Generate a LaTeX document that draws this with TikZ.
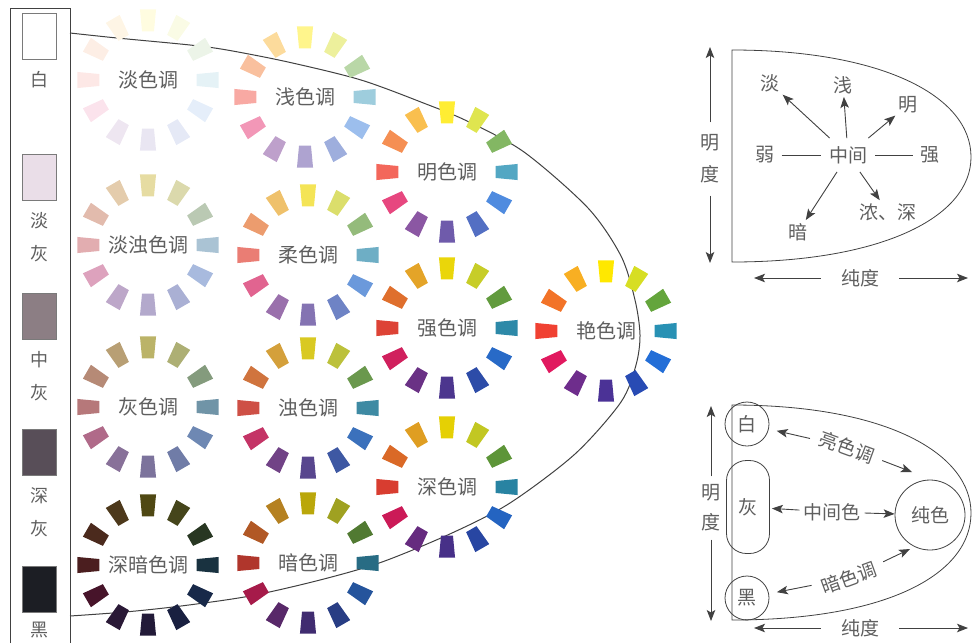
\documentclass[tikz,border=0pt]{standalone}
\usepackage{fontspec}
\setmainfont{Noto Sans CJK SC}
\usetikzlibrary{positioning,arrows.meta}

% twelve vivid hues, clockwise from the top
\definecolor{hue1}{RGB}{255,232,0}
\definecolor{hue2}{RGB}{215,222,35}
\definecolor{hue3}{RGB}{100,165,60}
\definecolor{hue4}{RGB}{40,145,180}
\definecolor{hue5}{RGB}{35,110,215}
\definecolor{hue6}{RGB}{40,75,180}
\definecolor{hue7}{RGB}{75,50,150}
\definecolor{hue8}{RGB}{110,45,140}
\definecolor{hue9}{RGB}{225,25,95}
\definecolor{hue10}{RGB}{240,65,50}
\definecolor{hue11}{RGB}{242,115,40}
\definecolor{hue12}{RGB}{248,175,35}
\definecolor{txt}{RGB}{95,95,95}
\definecolor{rim}{RGB}{65,65,65}
\definecolor{mixpd}{RGB}{220,215,225}
\definecolor{mixsoft}{RGB}{225,222,225}
\definecolor{mixstrong}{RGB}{80,80,80}
\definecolor{mixgray}{RGB}{150,150,160}
\definecolor{mixdull}{RGB}{120,120,120}
\definecolor{mixdark}{RGB}{20,18,25}
\definecolor{mixdeep}{RGB}{40,30,30}
\definecolor{gLight}{RGB}{234,222,232}
\definecolor{gMid}{RGB}{140,126,132}
\definecolor{gDark}{RGB}{88,78,88}
\definecolor{gBlack}{RGB}{28,30,36}

% one ring of twelve chips: name, centre, label, percent, mix colour
\newcommand{\tonewheel}[5]{%
  \foreach \k in {1,...,12}{%
    \pgfmathsetmacro{\ang}{30*\k-120}
    \fill[fill=hue\k!#4!#5, shift={#2}]
      (\ang-7:49) -- (\ang+7:49) -- (\ang+6.5:71) -- (\ang-6.5:71) -- cycle;
  }
  \node[tone] (#1) at #2 {#3};
}

\begin{document}
\begin{tikzpicture}[x=1pt,y=-1pt,
    tone/.style={font=\fontsize{20}{20}\selectfont,text=txt,inner sep=0pt},
    lab/.style={font=\fontsize{19}{19}\selectfont,text=txt,inner sep=3pt},
    chip/.style={draw=rim!70,line width=0.5pt,minimum width=34pt,minimum height=46pt,inner sep=0pt},
    chip text/.style={font=\fontsize{18}{33}\selectfont,text=txt,align=center,inner sep=0pt},
    rim line/.style={draw=rim,line width=1pt},
    arr/.style={draw=rim,line width=0.9pt,-{Stealth[length=11pt,width=8.5pt,inset=2.5pt]}},
    ring/.style={circle,draw=rim,line width=0.8pt,font=\fontsize{19}{19}\selectfont,text=txt,inner sep=0pt}]
  \useasboundingbox (0,0) rectangle (973,643);

  % grey scale column
  \draw[rim line,line width=0.8pt] (10,643) -- (10,8) -- (70,8) -- (70,643);
  \node[chip,fill=white]  (c white) at (39,36) {};
  \node[chip,fill=gLight] (c light) at (39,177) {};
  \node[chip,fill=gMid]   (c mid)   at (39,316) {};
  \node[chip,fill=gDark]  (c dark)  at (39,452) {};
  \node[chip,fill=gBlack] (c black) at (39,589) {};
  \node[chip text,below=12pt of c white] (t white) {白};
  \node[chip text,below=12pt of c light] (t light) {淡\\灰};
  \node[chip text,below=12pt of c mid]   (t mid)   {中\\灰};
  \node[chip text,below=12pt of c dark]  (t dark)  {深\\灰};
  \node[chip text,below=10pt of c black] (t black) {黑};

  % outline of the tone area
  \draw[rim line] plot[smooth] coordinates {(70,33) (117,38) (190,45) (227,50) (288,62)
    (361,80) (426,104) (467,121) (524,152) (588,208) (621,256) (635,300) (640,335)
    (636,365) (621,402) (575,454) (510,503) (452,533) (382,562) (320,580) (250,596)
    (181,606) (125,612) (70,616)};

  % tone rings
  \tonewheel{w pale}{(148,80)}{淡色调}{12}{white}
  \tonewheel{w light}{(305,97)}{浅色调}{45}{white}
  \tonewheel{w bright}{(447,172)}{明色调}{80}{white}
  \tonewheel{w pale dull}{(148,245)}{淡浊色调}{28}{mixpd}
  \tonewheel{w soft}{(308,255)}{柔色调}{62}{mixsoft}
  \tonewheel{w strong}{(447,328)}{强色调}{88}{mixstrong}
  \tonewheel{w vivid}{(606,331)}{艳色调}{100}{white}
  \tonewheel{w grayish}{(148,407)}{灰色调}{35}{mixgray}
  \tonewheel{w dull}{(308,408)}{浊色调}{72}{mixdull}
  \tonewheel{w deep}{(447,487)}{深色调}{88}{mixdeep}
  \tonewheel{w dark gray}{(148,565)}{深暗色调}{25}{mixdark}
  \tonewheel{w dark}{(308,563)}{暗色调}{68}{mixdeep}

  % upper right scheme
  \draw[rim line,line width=0.8pt] (732,50) .. controls (880,50) and (971,95) .. (971,157)
    .. controls (971,218) and (880,262) .. (732,262) -- cycle;
  \node[lab,inner xsep=8pt,inner ysep=8pt] (mid) at (848,155) {中间};
  \node[lab,inner sep=7pt] (weak) at (765,155) {弱};
  \node[lab,inner sep=7pt] (strong) at (930,155) {强};
  \node[lab] (pale) at (770,83) {淡};
  \node[lab] (light) at (843,85) {浅};
  \node[lab] (bright) at (908,105) {明};
  \node[lab] (dark) at (798,232) {暗};
  \node[lab] (deep) at (888,212) {浓、深};
  \draw[draw=rim,line width=0.8pt] (weak) -- (mid) -- (strong);
  \draw[arr] (mid) -- (pale);
  \draw[arr] (mid) -- (light);
  \draw[arr] (mid) -- (bright);
  \draw[arr] (mid) -- (dark);
  \draw[arr] (mid) -- (deep);
  \node[lab,align=center,font=\fontsize{19}{32}\selectfont,inner xsep=2pt,inner ysep=12pt] (tr v) at (710,159) {明\\度};
  \coordinate (tr v top) at (710,47);
  \coordinate (tr v bot) at (710,263);
  \draw[arr] (tr v) -- (tr v top);
  \draw[arr] (tr v) -- (tr v bot);
  \node[lab,inner xsep=20pt] (tr h) at (860,278) {纯度};
  \coordinate (tr h left) at (754,278);
  \coordinate (tr h right) at (968,278);
  \draw[arr] (tr h) -- (tr h left);
  \draw[arr] (tr h) -- (tr h right);

  % lower right scheme
  \draw[rim line,line width=0.8pt] (732,405) .. controls (890,405) and (971,455) .. (971,513)
    .. controls (971,573) and (890,620) .. (732,620) -- cycle;
  \node[ring,minimum size=44pt] (br white) at (747,424) {白};
  \node[draw=rim,line width=0.8pt,rounded corners=20pt,minimum width=43pt,minimum height=93pt,
    font=\fontsize{19}{19}\selectfont,text=txt] (br gray) at (748,507) {灰};
  \node[ring,minimum size=44pt] (br black) at (747,598) {黑};
  \node[ring,minimum size=70pt] (br pure) at (930,515) {纯色};
  \node[lab,rotate=-20,inner xsep=9pt] (br bright) at (847,447) {亮色调};
  \node[lab,inner xsep=4pt] (br mid) at (832,512) {中间色};
  \node[lab,rotate=20,inner xsep=9pt] (br dark) at (849,578) {暗色调};
  \coordinate (br bright tip) at (912,472);
  \coordinate (br dark tip) at (910,549);
  \draw[arr,shorten >=8pt] (br bright) -- (br white);
  \draw[arr] (br bright) -- (br bright tip);
  \draw[arr,shorten >=2pt] (br mid) -- (br gray);
  \draw[arr] (br mid) -- (br pure);
  \draw[arr,shorten >=8pt] (br dark) -- (br black);
  \draw[arr] (br dark) -- (br dark tip);
  \node[lab,align=center,font=\fontsize{19}{30}\selectfont,inner xsep=2pt,inner ysep=8pt] (br v) at (711,508) {明\\度};
  \coordinate (br v top) at (711,406);
  \coordinate (br v bot) at (711,621);
  \draw[arr] (br v) -- (br v top);
  \draw[arr] (br v) -- (br v bot);
  \node[lab,inner xsep=20pt] (br h) at (860,628) {纯度};
  \coordinate (br h left) at (754,628);
  \coordinate (br h right) at (968,628);
  \draw[arr] (br h) -- (br h left);
  \draw[arr] (br h) -- (br h right);
\end{tikzpicture}
\end{document}
